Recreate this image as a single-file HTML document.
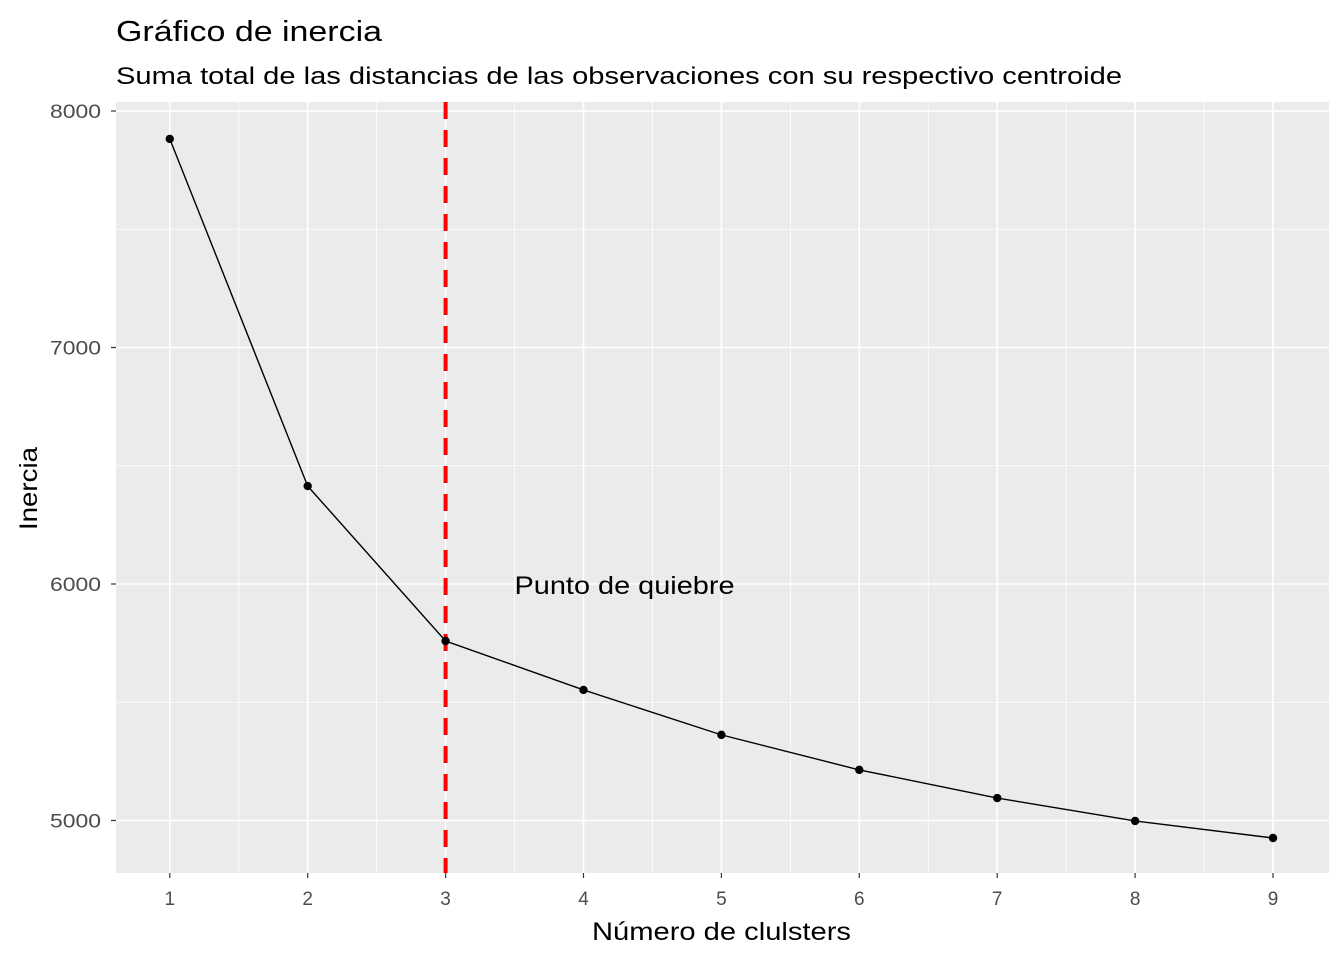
<!DOCTYPE html>
<html><head><meta charset="utf-8"><style>
body{margin:0;background:#fff;}
svg text{font-family:"Liberation Sans",sans-serif;}
</style></head><body>
<svg id="chart" width="1344" height="960" xmlns="http://www.w3.org/2000/svg">
<text x="116" y="41" font-size="29" textLength="266" lengthAdjust="spacingAndGlyphs" fill="#000">Gráfico de inercia</text>
<text x="116" y="84" font-size="24" textLength="1006" lengthAdjust="spacingAndGlyphs" fill="#000">Suma total de las distancias de las observaciones con su respectivo centroide</text>
<rect x="116" y="102" width="1213" height="771" fill="#ebebeb"/>
<g id="grid"></g>
<g id="marks"></g>
<g id="axes"></g>
<text x="592" y="940" font-size="25" textLength="259" lengthAdjust="spacingAndGlyphs" fill="#000">Número de clulsters</text>
<text transform="translate(37,530) rotate(-90)" font-size="25" textLength="83" lengthAdjust="spacingAndGlyphs" fill="#000">Inercia</text>
</svg>
<script>
const clusters=[1,2,3,4,5,6,7,8,9];
const inertia=[7882,6414,5759,5552,5362,5214,5095,4998,4926];
const yTicks=[5000,6000,7000,8000];
const xTicks=[1,2,3,4,5,6,7,8,9];
const breakX=3;
const annotationX=3.5, annotationY=6000, annotationText="Punto de quiebre";

const L=116,R=1329,T=102,B=873;
const xMin=0.61,xMax=9.406,yMin=4778,yMax=8038;
const xs=v=>L+(v-xMin)/(xMax-xMin)*(R-L);
const ys=v=>B-(v-yMin)/(yMax-yMin)*(B-T);
const NS="http://www.w3.org/2000/svg";
function mk(tag,attrs,parent){const e=document.createElementNS(NS,tag);for(const k in attrs)e.setAttribute(k,attrs[k]);document.getElementById(parent).appendChild(e);return e;}

for(let i=0;i<xTicks.length-1;i++){const x=xs((xTicks[i]+xTicks[i+1])/2);
 const g=mk('line',{x1:x,x2:x,y1:T,y2:B,stroke:'#fff','stroke-width':0.8},'grid');
 
 }
for(let i=0;i<yTicks.length-1;i++){const y=ys((yTicks[i]+yTicks[i+1])/2);
 const g=mk('line',{x1:L,x2:R,y1:y,y2:y,stroke:'#fff','stroke-width':0.8},'grid');
 
 }
xTicks.forEach(t=>{const x=xs(t);
 const g=mk('line',{x1:x,x2:x,y1:T,y2:B,stroke:'#fff','stroke-width':1.6},'grid');
 
 
 const tk=mk('line',{x1:x,x2:x,y1:B,y2:B+5,stroke:'#333','stroke-width':1.2},'axes');
 
 
 const tx=mk('text',{x:x,y:B+32,'font-size':19,'text-anchor':'middle',fill:'#4d4d4d'},'axes');
 tx.textContent=t;
 
 });
yTicks.forEach(t=>{const y=ys(t);
 const g=mk('line',{x1:L,x2:R,y1:y,y2:y,stroke:'#fff','stroke-width':1.6},'grid');
 
 
 const tk=mk('line',{x1:L-5,x2:L,y1:y,y2:y,stroke:'#333','stroke-width':1.2},'axes');
 
 
 const tx=mk('text',{x:L-66,y:y+7,'font-size':19,textLength:51,lengthAdjust:'spacingAndGlyphs',fill:'#4d4d4d'},'axes');
 tx.textContent=t;
 
 });
const pts=clusters.map((c,i)=>xs(c)+','+ys(inertia[i])).join(' ');
const pl=mk('polyline',{points:pts,fill:'none',stroke:'#000','stroke-width':1.4},'marks');


const vl=mk('line',{x1:xs(breakX),x2:xs(breakX),y1:T,y2:B,stroke:'#ff0000','stroke-width':4,'stroke-dasharray':'17,11'},'marks');


clusters.forEach((c,i)=>{const p=mk('circle',{cx:xs(c),cy:ys(inertia[i]),r:4.2,fill:'#000'},'marks');
 
 });
const an=mk('text',{x:xs(annotationX),y:ys(annotationY)+10,'font-size':25,textLength:220,lengthAdjust:'spacingAndGlyphs',fill:'#000'},'marks');
an.textContent=annotationText;


</script>
</body></html>
